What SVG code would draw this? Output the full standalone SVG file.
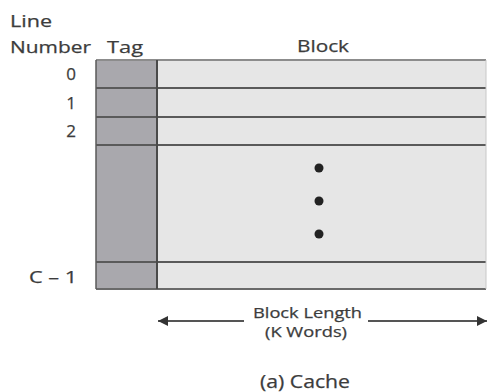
<svg xmlns="http://www.w3.org/2000/svg" width="488" height="392" viewBox="0 0 488 392">
<defs>
<style>
.t{font-family:"Open Sans","Liberation Sans",sans-serif;fill:#3c3c3c;stroke:#3c3c3c;stroke-width:0.25;}
.hd{font-size:17px;}
.num{font-size:17px;text-anchor:middle;}
.row{stroke:#5a5a5a;stroke-width:2;}
.conn{stroke:#555;stroke-width:2;fill:none;}
</style>
<marker id="ah" viewBox="0 0 10 10" refX="10" refY="5" markerWidth="10" markerHeight="11" markerUnits="userSpaceOnUse" orient="auto-start-reverse">
<path d="M0,0 L10,5 L0,10 Z" fill="#333"/>
</marker>
</defs>
<rect width="488" height="392" fill="#fff"/>
<g id="headers">
<text class="t hd" x="10" y="27" textLength="42" lengthAdjust="spacingAndGlyphs">Line</text>
<text class="t hd" x="10" y="53" textLength="81" lengthAdjust="spacingAndGlyphs">Number</text>
<text class="t hd" x="107" y="53" textLength="36" lengthAdjust="spacingAndGlyphs">Tag</text>
<text class="t hd" x="297" y="52" textLength="52" lengthAdjust="spacingAndGlyphs">Block</text>
</g>
<g id="cache-table">
<rect x="96" y="60" width="61" height="229" fill="#a9a8ad"/>
<rect x="157" y="60" width="329" height="229" fill="#e6e6e6"/>
<line x1="96" y1="60" x2="486" y2="60" stroke="#8c8c8c" stroke-width="2"/>
<line class="row" x1="96" y1="88" x2="486" y2="88"/>
<line class="row" x1="96" y1="117" x2="486" y2="117"/>
<line class="row" x1="96" y1="145" x2="486" y2="145"/>
<line class="row" x1="96" y1="262" x2="486" y2="262"/>
<line x1="96" y1="289" x2="486" y2="289" stroke="#6a6a6a" stroke-width="2"/>
<line x1="96" y1="60" x2="96" y2="289" stroke="#5a5a5a" stroke-width="1.5"/>
<line x1="157" y1="60" x2="157" y2="289" stroke="#4a4a4a" stroke-width="2"/>
<line x1="486" y1="60" x2="486" y2="289" stroke="#c8c8c8" stroke-width="1"/>
<circle cx="319" cy="168" r="4.5" fill="#222"/>
<circle cx="319" cy="201" r="4.5" fill="#222"/>
<circle cx="319" cy="234" r="4.5" fill="#222"/>
</g>
<g id="line-numbers">
<text class="t num" x="71" y="80">0</text>
<text class="t num" x="71" y="109">1</text>
<text class="t num" x="71" y="137">2</text>
<text class="t num" x="53" y="283" textLength="48" lengthAdjust="spacingAndGlyphs">C – 1</text>
</g>
<g id="connectors">
<line class="conn" x1="158" y1="321" x2="244" y2="321" marker-start="url(#ah)"/>
<line class="conn" x1="368" y1="321" x2="487" y2="321" marker-end="url(#ah)"/>
</g>
<g id="block-length-label">
<text class="t" x="253" y="318" font-size="15" textLength="109" lengthAdjust="spacingAndGlyphs">Block Length</text>
<text class="t" x="265" y="337" font-size="15" textLength="82" lengthAdjust="spacingAndGlyphs">(K Words)</text>
</g>
<g id="caption">
<text class="t" x="260" y="388" font-size="18" textLength="90" lengthAdjust="spacingAndGlyphs">(a) Cache</text>
</g>
</svg>
